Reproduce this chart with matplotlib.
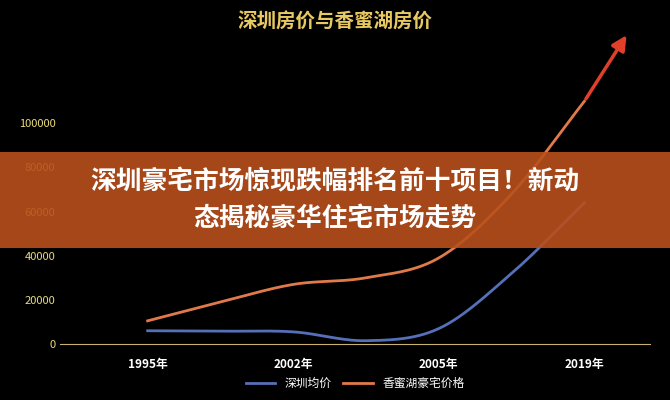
import matplotlib.pyplot as plt
import numpy as np
from matplotlib.patches import Rectangle

plt.rcParams['font.family'] = ['Noto Sans CJK SC', 'DejaVu Sans']

years = ["1995年", "2002年", "2005年", "2019年"]
# values read at half-category steps to follow the curves
pos = [0, 0.5, 1, 1.5, 2, 2.5, 3]
sz_avg = [6000, 5800, 5500, 1500, 7000, 32000, 64000]
xmh_lux = [10500, 19000, 27000, 30000, 39000, 68000, 110000]


def smooth(xs, ys, n=30):
    # Catmull-Rom curve through the read points
    xs = np.asarray(xs, float); ys = np.asarray(ys, float)
    px = np.concatenate([[2*xs[0]-xs[1]], xs, [2*xs[-1]-xs[-2]]])
    py = np.concatenate([[2*ys[0]-ys[1]], ys, [2*ys[-1]-ys[-2]]])
    ox, oy = [], []
    t = np.linspace(0, 1, n, endpoint=False)
    for i in range(1, len(px)-2):
        for arr, out in ((px, ox), (py, oy)):
            p0, p1, p2, p3 = arr[i-1:i+3]
            out.extend(0.5*((2*p1) + (-p0+p2)*t + (2*p0-5*p1+4*p2-p3)*t**2 + (-p0+3*p1-3*p2+p3)*t**3))
    ox.append(xs[-1]); oy.append(ys[-1])
    return ox, oy


fig = plt.figure(figsize=(6.7, 4.0), dpi=100, facecolor='black')
ax = fig.add_axes([0.09, 0.14, 0.88, 0.80], facecolor='black')

x1, y1 = smooth(pos, sz_avg)
x2, y2 = smooth(pos, xmh_lux)
ax.plot(x1, y1, color='#5570b8', lw=2, label='深圳均价')
ax.plot(x2, y2, color='#e07a4a', lw=2, label='香蜜湖豪宅价格')
ax.annotate('', xy=(3.3, 141000), xytext=(3, 110000),
            arrowprops=dict(arrowstyle='-|>', color='#e0402a', lw=2.5, mutation_scale=22))

ax.set_xlim(-0.6, 3.45)
ax.set_ylim(0, 145000)
ax.set_xticks(range(len(years)))
ax.set_xticklabels(years, fontsize=8.5, fontweight='bold')
ax.set_yticks(range(0, 100001, 20000))
ax.tick_params(axis='y', colors='#e8dc7a', labelsize=8, length=0)
ax.tick_params(axis='x', length=0, pad=10, labelcolor='white', labelbottom=True)
for s in ['top', 'right', 'left']:
    ax.spines[s].set_visible(False)
ax.spines['bottom'].set_color('#c8b070')

leg = ax.legend(loc='upper center', bbox_to_anchor=(0.5, -0.07), ncol=2, frameon=False,
                fontsize=8.5, labelcolor='white', handlelength=2.5, columnspacing=1)

fig.text(0.5, 0.945, '深圳房价与香蜜湖房价', color='#e8c860', fontsize=14, fontweight='bold',
         ha='center', va='center')

fig.patches.append(Rectangle((0, 0.38), 1, 0.24, transform=fig.transFigure,
                             facecolor='#b8501c', alpha=0.9, zorder=5))
fig.text(0.5, 0.5, '深圳豪宅市场惊现跌幅排名前十项目！新动\n态揭秘豪华住宅市场走势', color='white',
         fontsize=18.5, fontweight='bold', ha='center', va='center', linespacing=1.4, zorder=6)

fig.savefig('out.png', facecolor='black')
